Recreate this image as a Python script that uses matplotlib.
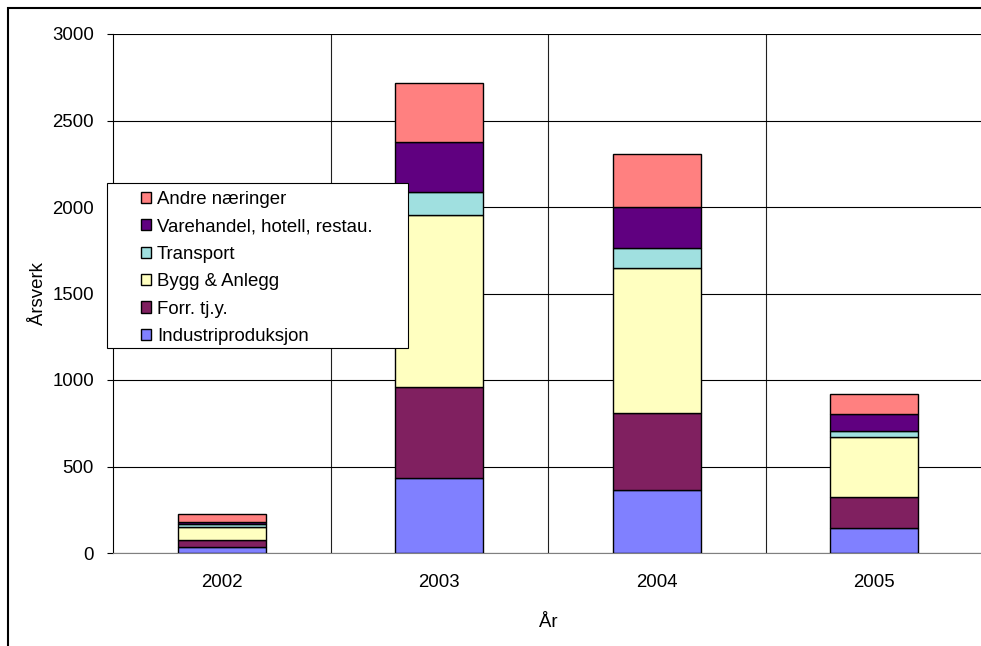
import matplotlib
matplotlib.use("Agg")
import matplotlib.pyplot as plt
from matplotlib.patches import Rectangle
import numpy as np

plt.rcParams['font.family'] = ['Liberation Sans', 'DejaVu Sans']

years = ["2002", "2003", "2004", "2005"]
series_names = ["Industriproduksjon", "Forr. tj.y.", "Bygg & Anlegg",
                "Transport", "Varehandel, hotell, restau.", "Andre næringer"]
industri = [35, 435, 365, 145]
forr = [40, 525, 445, 180]
bygg = [77, 995, 840, 343]
transport = [14, 130, 115, 38]
varehandel = [14, 290, 235, 100]
andre = [45, 340, 305, 114]
colors = ["#8080FF", "#802060", "#FFFFC0", "#A0E0E0", "#600080", "#FF8080"]

W, H = 981, 646
fig = plt.figure(figsize=(W / 100, H / 100), dpi=100)

# outer chart frame
fig.patches.append(Rectangle((8 / W, -0.1), 1.2, 1 - 8 / H + 0.1,
                             transform=fig.transFigure, fill=False,
                             edgecolor="black", linewidth=1.5, zorder=0))

ax = fig.add_axes([113 / W, 1 - 553 / H, 870 / W, (553 - 34) / H])
x = np.arange(len(years))
data = [industri, forr, bygg, transport, varehandel, andre]
bottom = np.zeros(len(years))
handles = []
for vals, c, name in zip(data, colors, series_names):
    b = ax.bar(x, vals, width=0.405, bottom=bottom, color=c,
               edgecolor="black", linewidth=1.0, label=name, zorder=3)
    handles.append(b)
    bottom += np.array(vals)

ax.set_xlim(-0.5, 3.5)
ax.set_ylim(0, 3000)
ax.set_yticks(np.arange(0, 3001, 500))
ax.set_xticks(x)
ax.set_xticklabels(years)
ax.yaxis.grid(True, color="black", linewidth=0.8, zorder=0)
for bx in [0.5, 1.5, 2.5]:
    ax.axvline(bx, color="#202020", linewidth=0.8, zorder=0)
for s in ["top", "right"]:
    ax.spines[s].set_visible(False)
ax.spines["left"].set_color("black")
ax.spines["bottom"].set_color("#808080")
ax.tick_params(axis="y", direction="out", length=4.3, labelsize=13.4, pad=9.4)
ax.tick_params(axis="x", length=0, labelsize=13.4, pad=15)
ax.set_ylabel("Årsverk", fontsize=13.4, labelpad=3.5)
ax.set_xlabel("År", fontsize=13.4, labelpad=16.5)

# legend frame
fig.patches.append(Rectangle((107 / W, 1 - 348 / H), (408 - 107) / W, (348 - 183) / H,
                             transform=fig.transFigure, facecolor="white",
                             edgecolor="black", linewidth=0.8, zorder=5))
leg = fig.legend(handles[::-1], series_names[::-1], loc="upper left",
                 bbox_to_anchor=(141 / W, 1 - 191 / H), bbox_transform=fig.transFigure,
                 frameon=False, fontsize=13.4, handlelength=0.55, handleheight=0.55,
                 handletextpad=0.3, labelspacing=0.56, borderaxespad=0, borderpad=0)
leg.set_zorder(6)

fig.savefig("out.png", dpi=100)
